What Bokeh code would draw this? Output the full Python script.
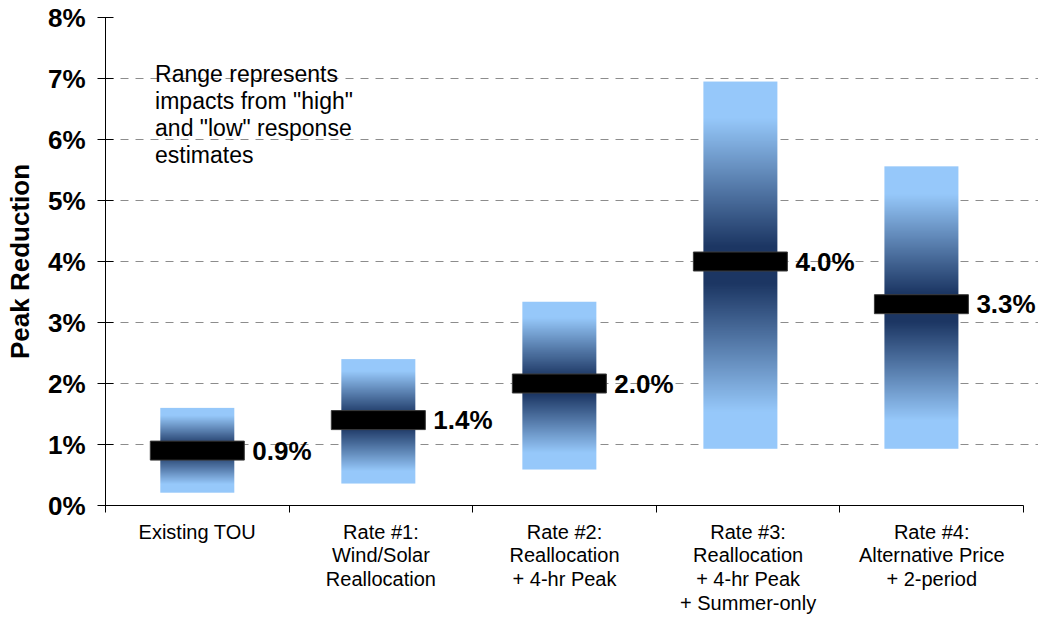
from bokeh.plotting import figure
from bokeh.models import FixedTicker, Range1d, ColumnDataSource, LabelSet
from bokeh.core.properties import value
from bokeh.embed import file_html
from bokeh.resources import INLINE
import numpy as np

# --- data -------------------------------------------------------------
categories = [
    "Existing TOU",
    "Rate #1:\nWind/Solar\nReallocation",
    "Rate #2:\nReallocation\n+ 4-hr Peak",
    "Rate #3:\nReallocation\n+ 4-hr Peak\n+ Summer-only",
    "Rate #4:\nAlternative Price\n+ 2-period",
]
central = [0.9, 1.4, 2.0, 4.0, 3.3]        # % peak reduction, central estimate
low_est = [0.21, 0.36, 0.59, 0.93, 0.93]   # "low" response estimate
high_est = [1.60, 2.40, 3.34, 6.95, 5.56]  # "high" response estimate
y_ticks = [0, 1, 2, 3, 4, 5, 6, 7, 8]
note = 'Range represents\nimpacts from "high"\nand "low" response\nestimates'

FONT = "Liberation Sans"
LIGHT = np.array([150, 200, 250])
DARK = np.array([28, 54, 99])

n = len(categories)
slots = list(range(n))                 # category slot centres (axis labels)
BAR_STEP = 0.986                       # bars sit slightly tighter than the slots
bar_x = [i * BAR_STEP for i in slots]

# the frame runs to the right edge so the last value label has room;
# the axis itself stops at the last slot boundary
SLOT_PX = 183.6
x_end = n - 0.5 + 15 / SLOT_PX

p = figure(
    width=1038, height=621,
    x_range=Range1d(-0.5, x_end), y_range=Range1d(0, 8),
    output_backend="svg", toolbar_location=None,
    min_border_left=105, min_border_right=0,
    min_border_top=17, min_border_bottom=116,
)
p.outline_line_color = None
p.background_fill_color = "white"
p.border_fill_color = "white"

# --- gradient range bars (dark in the middle, light towards both ends) --
BAR_W = 0.403
ROWS = 600


def gradient_column(rows):
    t = np.abs(np.linspace(-1.0, 1.0, rows))
    s = np.clip((t - 0.10) / (0.80 - 0.10), 0.0, 1.0)
    rgb = DARK[None, :] + (LIGHT - DARK)[None, :] * s[:, None]
    rgb = np.round(rgb).astype(np.uint32)
    packed = (255 << 24) | (rgb[:, 2] << 16) | (rgb[:, 1] << 8) | rgb[:, 0]
    return packed.reshape(rows, 1).astype(np.uint32)


grad = gradient_column(ROWS)
p.image_rgba(
    image=[grad] * n,
    x=[x - BAR_W / 2 for x in bar_x],
    y=low_est,
    dw=[BAR_W] * n,
    dh=[hi - lo for lo, hi in zip(low_est, high_est)],
)

# --- central estimate markers and labels --------------------------------
MARK_W = 0.512
p.rect(x=bar_x, y=central, width=MARK_W, height=19, height_units="screen",
       fill_color="black", line_color="#3a3a3a", line_width=1)

labels = ColumnDataSource(dict(
    x=[x + MARK_W / 2 for x in bar_x],
    y=central,
    text=[f"{v:.1f}%" for v in central],
))
p.add_layout(LabelSet(
    x="x", y="y", text="text", source=labels,
    x_offset=8, y_offset=0,
    text_font=value(FONT), text_font_style="bold", text_font_size="26px",
    text_baseline="middle", text_align="left", text_color="black",
))

# --- explanatory note ---------------------------------------------------
p.text(x=[-0.23], y=[7.28], text=[note],
       text_font=value(FONT), text_font_size="23px", text_line_height=1.03,
       text_baseline="top", text_align="left", text_color="black")

# --- axes ---------------------------------------------------------------
p.xgrid.grid_line_color = None
p.ygrid.ticker = FixedTicker(ticks=y_ticks[1:])
p.ygrid.grid_line_color = "#8c8c8c"
p.ygrid.grid_line_dash = "8 7"
p.ygrid.grid_line_width = 1

ya = p.yaxis[0]
ya.ticker = FixedTicker(ticks=y_ticks, minor_ticks=[])
ya.major_label_overrides = {t: f"{t}%" for t in y_ticks}
ya.major_label_text_font = FONT
ya.major_label_text_font_style = "bold"
ya.major_label_text_font_size = "26px"
ya.major_label_text_color = "black"
ya.major_tick_in = 8
ya.major_tick_out = 8
ya.major_label_standoff = 12
ya.minor_tick_line_color = None
ya.axis_line_color = "black"
ya.major_tick_line_color = "black"
ya.axis_label = "Peak Reduction"
ya.axis_label_text_font = FONT
ya.axis_label_text_font_style = "bold"
ya.axis_label_text_font_size = "26px"
ya.axis_label_text_color = "black"
ya.axis_label_standoff = 10

xa = p.xaxis[0]
xa.bounds = (-0.5, n - 0.5)
xa.ticker = FixedTicker(ticks=slots, minor_ticks=[s - 0.5 for s in slots] + [n - 0.5])
xa.major_label_overrides = {s: c for s, c in zip(slots, categories)}
xa.major_label_text_font = FONT
xa.major_label_text_font_size = "20px"
xa.major_label_text_line_height = 1.08
xa.major_label_text_color = "black"
xa.major_tick_in = 0
xa.major_tick_out = 0
xa.major_label_standoff = 8
xa.minor_tick_in = 0
xa.minor_tick_out = 7
xa.minor_tick_line_color = "black"
xa.axis_line_color = "black"

open("out.html", "w").write(file_html(p, INLINE))
